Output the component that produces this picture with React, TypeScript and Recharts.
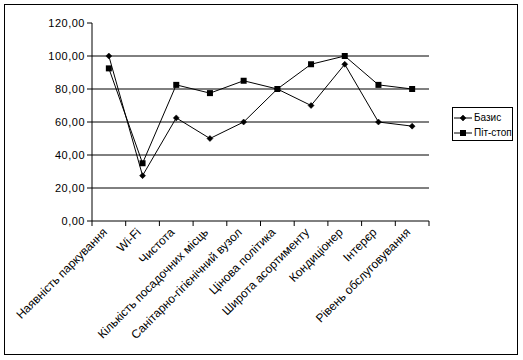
import React from 'react'
import { LineChart, Line, XAxis, YAxis, ReferenceLine } from 'recharts'

// Категорії та значення
const categories = [
  'Наявність паркування',
  'Wi-Fi',
  'Чистота',
  'Кількість посадочних місць',
  'Санітарно-гігієнічний вузол',
  'Цінова політика',
  'Широта асортименту',
  'Кондиціонер',
  'Інтерєр',
  'Рівень обслуговування',
]
const basis = [100, 27.5, 62.5, 50, 60, 80, 70, 95, 60, 57.5]
const pitStop = [92.5, 35, 82.5, 77.5, 85, 80, 95, 100, 82.5, 80]
const yTicks = [0, 20, 40, 60, 80, 100, 120]
const gridValues = [20, 40, 60, 80, 100]

const FONT = 'Arial, "Liberation Sans", sans-serif'

const data = categories.map((name, i) => ({
  x: i + 0.5,
  name,
  basis: basis[i],
  pitStop: pitStop[i],
}))

const xTicks = categories.map((_, i) => i).concat(categories.length)

const fmt = (v: number) => v.toFixed(2).replace('.', ',')

function Diamond({ cx, cy }: any) {
  if (cx == null || cy == null) return null
  const r = 3
  return (
    <polygon
      points={`${cx},${cy - r} ${cx + r},${cy} ${cx},${cy + r} ${cx - r},${cy}`}
      fill="#000"
      stroke="#000"
      strokeWidth={0.5}
    />
  )
}

function Square({ cx, cy }: any) {
  if (cx == null || cy == null) return null
  return <rect x={cx - 3} y={cy - 3} width={6} height={6} fill="#000" />
}

function CatTick({ x, y, payload, width }: any) {
  const i = payload.value
  if (i >= categories.length) return null
  const step = width / categories.length
  const ax = x + step / 2 - 1
  const ay = y + 5
  return (
    <text
      x={ax}
      y={ay}
      textAnchor="end"
      transform={`rotate(-45 ${ax} ${ay})`}
      fontSize={12}
      fontFamily={FONT}
      fill="#000"
    >
      {categories[i]}
    </text>
  )
}

function LegendBox() {
  const rows = [
    { label: 'Базис', Mark: Diamond },
    { label: 'Піт-стоп', Mark: Square },
  ]
  return (
    <div
      style={{
        border: '1px solid #000',
        background: '#fff',
        width: 61,
        height: 34,
        boxSizing: 'border-box',
        padding: '2px 0 0 1px',
        whiteSpace: 'nowrap',
        overflow: 'hidden',
      }}
    >
      {rows.map(({ label, Mark }) => (
        <div key={label} style={{ display: 'flex', alignItems: 'center', height: 15 }}>
          <svg width={18} height={10} style={{ flex: 'none' }}>
            <line x1={0} y1={5} x2={18} y2={5} stroke="#000" strokeWidth={1} />
            <Mark cx={9} cy={5} />
          </svg>
          <span style={{ fontSize: 10, fontFamily: FONT, marginLeft: 2, color: '#000' }}>{label}</span>
        </div>
      ))}
    </div>
  )
}

export default function App() {
  return (
    <div
      style={{
        position: 'absolute',
        left: 4,
        top: 4,
        width: 514,
        height: 351,
        border: '1px solid #000',
        boxSizing: 'border-box',
        background: '#fff',
      }}
    >
      <LineChart
        width={512}
        height={349}
        data={data}
        margin={{ top: 18, right: 88, left: 0, bottom: 0 }}
      >
        {gridValues.map((v) => (
          <ReferenceLine key={v} y={v} stroke="#000" strokeWidth={1} />
        ))}
        <XAxis
          type="number"
          dataKey="x"
          domain={[0, categories.length]}
          ticks={xTicks}
          interval={0}
          height={133}
          tickSize={5}
          axisLine={{ stroke: '#000' }}
          tickLine={{ stroke: '#000' }}
          tick={<CatTick />}
        />
        <YAxis
          domain={[0, 120]}
          ticks={yTicks}
          interval={0}
          width={87}
          tickSize={5}
          tickFormatter={fmt}
          axisLine={{ stroke: '#000' }}
          tickLine={{ stroke: '#000' }}
          tick={{ fill: '#000', fontSize: 11, fontFamily: FONT, letterSpacing: 0.5 }}
        />
        <Line
          dataKey="basis"
          name="Базис"
          stroke="#000"
          strokeWidth={1}
          dot={<Diamond />}
          activeDot={false}
          isAnimationActive={false}
        />
        <Line
          dataKey="pitStop"
          name="Піт-стоп"
          stroke="#000"
          strokeWidth={1}
          dot={<Square />}
          activeDot={false}
          isAnimationActive={false}
        />
      </LineChart>
      <div style={{ position: 'absolute', left: 447, top: 102 }}>
        <LegendBox />
      </div>
    </div>
  )
}
